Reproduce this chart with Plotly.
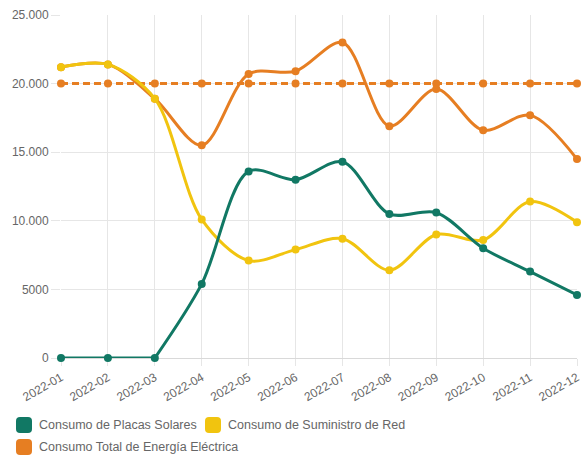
import re
import plotly.graph_objects as go

# Monthly energy consumption (kWh)
meses = ["2022-01", "2022-02", "2022-03", "2022-04", "2022-05", "2022-06",
         "2022-07", "2022-08", "2022-09", "2022-10", "2022-11", "2022-12"]
placas_solares = [0, 0, 0, 5400, 13600, 13000, 14300, 10500, 10600, 8000, 6300, 4600]
suministro_red = [21200, 21400, 18900, 10100, 7100, 7900, 8700, 6400, 9000, 8600, 11400, 9900]
consumo_total = [21200, 21400, 18900, 15500, 20700, 20900, 23000, 16900, 19600, 16600, 17700, 14500]
referencia = [20000] * 12

y_ticks = [0, 5000, 10000, 15000, 20000, 25000]
y_tick_labels = ["0", "5000", "10.000", "15.000", "20.000", "25.000"]

nombres = ["Consumo de Placas Solares", "Consumo de Suministro de Red",
           "Consumo Total de Energía Eléctrica"]
VERDE = "#117864"
AMARILLO = "#f1c40f"
NARANJA = "#e67e22"
FUENTE = "Liberation Sans, Arial, sans-serif"

W, H = 581, 457
ML, MR, MT, MB = 61, 4, 15, 99
PW, PH = W - ML - MR, H - MT - MB

fig = go.Figure()


def linea(x, y, color, dash="solid", smooth=True):
    fig.add_trace(go.Scatter(
        x=x, y=y, mode="lines",
        line=dict(color=color, width=3, dash=dash,
                  shape="spline" if smooth else "linear", smoothing=0.9),
        showlegend=False, hoverinfo="skip", cliponaxis=False,
    ))


def puntos(y, color):
    fig.add_trace(go.Scatter(
        x=meses, y=y, mode="markers",
        marker=dict(color=color, size=8),
        showlegend=False, hoverinfo="x+y", cliponaxis=False,
    ))


# dashed 20.000 reference level
linea(meses, referencia, NARANJA, dash="7px,4px", smooth=False)
puntos(referencia, NARANJA)

linea(meses, consumo_total, NARANJA)
puntos(consumo_total, NARANJA)

linea(meses, suministro_red, AMARILLO)
puntos(suministro_red, AMARILLO)

# solar stays flat at zero until the panels start producing
inicio = next(i for i, v in enumerate(placas_solares) if v > 0) - 1
linea(meses[:inicio + 1], placas_solares[:inicio + 1], VERDE, smooth=False)
linea(meses[inicio:], placas_solares[inicio:], VERDE)
puntos(placas_solares, VERDE)


# Legend drawn as rounded swatches plus text, below the axis labels
def px_x(px):
    return (px - ML) / PW


def px_y(py):
    return (H - MB - py) / PH


def swatch(x0, yc, color):
    s, r = 16, 4
    x1, y0, y1 = x0 + s, yc - s / 2, yc + s / 2
    path = (f"M {x0 + r},{y0} L {x1 - r},{y0} Q {x1},{y0} {x1},{y0 + r} "
            f"L {x1},{y1 - r} Q {x1},{y1} {x1 - r},{y1} L {x0 + r},{y1} "
            f"Q {x0},{y1} {x0},{y1 - r} L {x0},{y0 + r} Q {x0},{y0} {x0 + r},{y0} Z")
    for pair in re.findall(r"[-\d.]+,[-\d.]+", path):
        a, b = pair.split(",")
        path = path.replace(pair, f"{px_x(float(a)):.5f},{px_y(float(b)):.5f}", 1)
    fig.add_shape(type="path", path=path, xref="paper", yref="paper",
                  fillcolor=color, line=dict(width=0), layer="above")


items = [(16, 425, VERDE, nombres[0]), (205, 425, AMARILLO, nombres[1]),
         (16, 447, NARANJA, nombres[2])]
for x0, yc, color, texto in items:
    swatch(x0, yc, color)
    fig.add_annotation(x=px_x(x0 + 21), y=px_y(yc), xref="paper", yref="paper",
                       text=texto, showarrow=False, xanchor="left", yanchor="middle",
                       font=dict(family=FUENTE, size=12.5, color="#666666"))

fig.update_layout(
    width=W, height=H,
    margin=dict(l=ML, r=MR, t=MT, b=MB, autoexpand=False),
    paper_bgcolor="white", plot_bgcolor="white",
    font=dict(family=FUENTE, size=12, color="#666666"),
    showlegend=False,
)
fig.update_xaxes(
    type="category", range=[0, 11], tickangle=-30, automargin=False,
    showgrid=True, gridcolor="#e6e6e6", gridwidth=1,
    ticks="outside", ticklen=7, tickcolor="#e6e6e6",
    showline=True, linecolor="#d9d9d9", linewidth=1, layer="below traces",
    zeroline=False, tickfont=dict(family=FUENTE, size=12, color="#666666"),
)
fig.update_yaxes(
    range=[0, 25000], tickvals=y_ticks, ticktext=y_tick_labels, automargin=False,
    showgrid=True, gridcolor="#e6e6e6", gridwidth=1,
    ticks="outside", ticklen=9, tickcolor="#e6e6e6", layer="below traces",
    showline=False, zeroline=False,
    tickfont=dict(family=FUENTE, size=12, color="#666666"),
)

fig.write_html("out.html")
